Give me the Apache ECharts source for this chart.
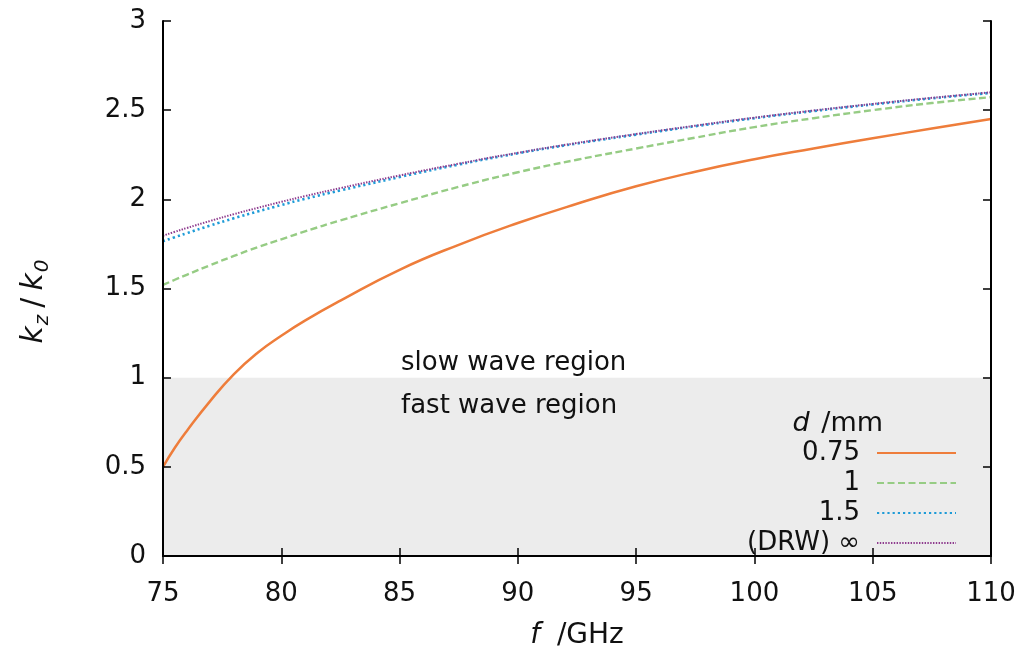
<!DOCTYPE html>
<html>
<head>
<meta charset="utf-8">
<script src="https://cdn.jsdelivr.net/npm/echarts@6/dist/echarts.min.js"></script>
<style>html,body{margin:0;padding:0;background:#fff}#c{width:1020px;height:655px}</style>
</head>
<body>
<div id="c"></div>
<script>
const freq = [75, 75.5, 76, 77, 78, 79, 80, 81, 82.5, 85, 87.5, 90, 92.5, 95, 97.5, 100, 102.5, 105, 107.5, 110];
const d075 = [0.50, 0.607, 0.70, 0.87, 1.02, 1.14, 1.235, 1.32, 1.432, 1.605, 1.745, 1.867, 1.975, 2.073, 2.155, 2.225, 2.285, 2.342, 2.397, 2.45];
const d1   = [1.52, 1.549, 1.577, 1.631, 1.683, 1.731, 1.776, 1.82, 1.882, 1.978, 2.07, 2.152, 2.222, 2.285, 2.346, 2.405, 2.455, 2.50, 2.54, 2.573];
const d15  = [1.765, 1.788, 1.81, 1.853, 1.894, 1.932, 1.968, 2.003, 2.05, 2.125, 2.195, 2.258, 2.313, 2.363, 2.41, 2.455, 2.495, 2.532, 2.566, 2.597];
const dInf = [1.796, 1.818, 1.839, 1.879, 1.917, 1.952, 1.986, 2.018, 2.063, 2.134, 2.20, 2.261, 2.316, 2.366, 2.413, 2.458, 2.498, 2.535, 2.569, 2.60];
const names = ['0.75', '1', '1.5', '(DRW) \u221e'];
const xTicks = {min: 75, max: 110, step: 5};
const yTicks = {min: 0, max: 3, step: 0.5};

const pairs = v => freq.map((f, i) => [f, v[i]]);
const FONT = 'DejaVu Sans';
const TXT = '#111';

const chart = echarts.init(document.getElementById('c'));
const axisCommon = {
  axisLine: {show: true, lineStyle: {color: '#000', width: 2}},
  axisTick: {show: true, inside: true, length: 8, lineStyle: {color: '#000', width: 1.5}},
  splitLine: {show: false},
  z: 10
};
const styles = [
  {color: '#ee7d3b', width: 2.5, type: 'solid'},
  {color: '#96cc84', width: 2.4, type: [7, 3.5]},
  {color: '#1e9bd7', width: 2.6, type: [2.2, 3]},
  {color: '#8e3b8e', width: 2, type: [1.4, 1.4]}
];
const data = [d075, d1, d15, dInf];
const series = data.map((v, i) => ({
  name: names[i],
  type: 'line',
  data: pairs(v),
  smooth: 0.5,
  showSymbol: false,
  symbol: 'none',
  lineStyle: styles[i],
  itemStyle: {color: styles[i].color},
  z: 3 + i
}));
series[0].markArea = {
  silent: true,
  itemStyle: {color: '#ececec'},
  data: [[{yAxis: 0}, {yAxis: 1}]]
};

chart.setOption({
  animation: false,
  textStyle: {fontFamily: FONT},
  grid: {left: 163, top: 21, right: 29, bottom: 90, containLabel: false},
  xAxis: [
    Object.assign({}, axisCommon, {
      type: 'value', min: xTicks.min, max: xTicks.max, interval: xTicks.step,
      position: 'bottom',
      axisLabel: {color: TXT, fontSize: 26, fontFamily: FONT, margin: 25},
      name: '{i|f}{n| /GHz}',
      nameLocation: 'middle', nameGap: 66,
      nameTextStyle: {
        rich: {
          i: {fontStyle: 'italic', fontSize: 28, color: TXT, fontFamily: FONT, padding: [0, 8, 0, 0]},
          n: {fontSize: 28, color: TXT, fontFamily: FONT}
        }
      }
    }),
    Object.assign({}, axisCommon, {
      type: 'value', min: xTicks.min, max: xTicks.max, interval: xTicks.step,
      position: 'top', axisLabel: {show: false}
    })
  ],
  yAxis: [
    Object.assign({}, axisCommon, {
      type: 'value', min: yTicks.min, max: yTicks.max, interval: yTicks.step,
      position: 'left',
      axisLabel: {color: TXT, fontSize: 26, fontFamily: FONT, margin: 17},
      name: '{i|k}{s|z}{n|/}{i|k}{s|0}',
      nameLocation: 'middle', nameGap: 110, nameRotate: 90,
      nameTextStyle: {
        padding: [0, 26, 0, 0],
        rich: {
          i: {fontStyle: 'italic', fontSize: 30, color: TXT, fontFamily: FONT, lineHeight: 38, verticalAlign: 'middle'},
          n: {fontSize: 30, color: TXT, fontFamily: FONT, lineHeight: 38, padding: [0, 7, 0, 7], verticalAlign: 'middle'},
          s: {fontStyle: 'italic', fontSize: 20, color: TXT, fontFamily: FONT, lineHeight: 38, verticalAlign: 'bottom', padding: [0, 0, 0, 1]}
        }
      }
    }),
    Object.assign({}, axisCommon, {
      type: 'value', min: yTicks.min, max: yTicks.max, interval: yTicks.step,
      position: 'right', axisLabel: {show: false}
    })
  ],
  legend: {
    orient: 'vertical',
    align: 'right',
    right: 63,
    top: 438,
    itemWidth: 79,
    itemHeight: 14,
    itemGap: 0,
    padding: 0,
    selectedMode: false,
    itemStyle: {opacity: 0, borderWidth: 0},
    textStyle: {fontFamily: FONT, fontSize: 26, color: TXT, lineHeight: 30, padding: [0, 12, 0, 0]},
    data: names
  },
  graphic: [
    {type: 'text', left: 401, top: 350, z: 20,
     style: {text: 'slow wave region', fontFamily: FONT, fontSize: 26, fill: TXT}},
    {type: 'text', left: 401, top: 393, z: 20,
     style: {text: 'fast wave region', fontFamily: FONT, fontSize: 26, fill: TXT}},
    {type: 'text', right: 137, top: 410, z: 20,
     style: {text: '{i|d}{n| /mm}', fontFamily: FONT, fontSize: 27, fill: TXT,
       rich: {i: {fontStyle: 'italic', fontSize: 27, fontFamily: FONT, fill: TXT, padding: [0, 3, 0, 0]},
              n: {fontSize: 27, fontFamily: FONT, fill: TXT}}}}
  ],
  series: series
});
</script>
</body>
</html>
